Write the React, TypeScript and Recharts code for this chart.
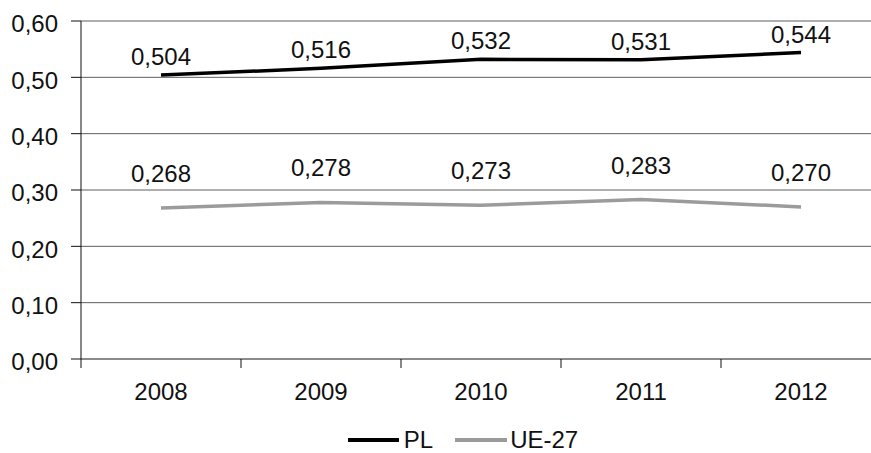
import React from 'react';
import { LineChart, Line, XAxis, YAxis, CartesianGrid, Legend, LabelList } from 'recharts';

const years = ['2008', '2009', '2010', '2011', '2012'];
const plValues = [0.504, 0.516, 0.532, 0.531, 0.544];
const ueValues = [0.268, 0.278, 0.273, 0.283, 0.27];
const yTicks = [0, 0.1, 0.2, 0.3, 0.4, 0.5, 0.6];

const data = years.map((y, i) => ({ year: y, PL: plValues[i], UE: ueValues[i] }));

const FONT = '"Liberation Sans", Arial, Helvetica, sans-serif';
const fmt = (v: number, d: number) => v.toFixed(d).replace('.', ',');

const YTick = (props: any) => {
  const { x, y, payload } = props;
  return (
    <text x={x} y={y + 11.2} textAnchor="end" fontFamily={FONT} fontSize={24} fill="#111">
      {fmt(payload.value, 2)}
    </text>
  );
};

const XTick = (props: any) => {
  const { x, y, payload } = props;
  const half = payload.offset ?? 80;
  return (
    <g>
      <line x1={x - half} x2={x - half} y1={y - 9} y2={y} stroke="#111" strokeWidth={1} />
      <text x={x} y={y + 32} textAnchor="middle" fontFamily={FONT} fontSize={24} fill="#111">
        {payload.value}
      </text>
    </g>
  );
};

const LegendContent = () => (
  <div
    style={{
      display: 'flex',
      justifyContent: 'center',
      alignItems: 'center',
      height: 26,
      fontFamily: FONT,
      fontSize: 24,
      color: '#111',
      lineHeight: '26px',
    }}
  >
    <span style={{ display: 'inline-block', width: 51, height: 4, background: '#000', marginRight: 5 }} />
    <span style={{ marginRight: 22 }}>PL</span>
    <span style={{ display: 'inline-block', width: 52, height: 4, background: '#9b9b9b', marginRight: 3 }} />
    <span>UE-27</span>
  </div>
);

export default function App() {
  return (
    <div style={{ position: 'absolute', left: 0, top: 0, width: 871, height: 453, overflow: 'hidden', background: '#fff' }}>
      <LineChart width={900} height={453} data={data} margin={{ top: 21, right: 19, bottom: 18, left: 0 }}>
        <CartesianGrid vertical={false} stroke="#5e5e5e" strokeWidth={1} />
        <XAxis
          dataKey="year"
          scale="band"
          height={50}
          tickLine={false}
          tickSize={9}
          tickMargin={0}
          axisLine={{ stroke: '#8a8a8a', strokeWidth: 2 }}
          tick={<XTick />}
          interval={0}
        />
        <YAxis
          width={81}
          domain={[0, 0.6]}
          ticks={yTicks}
          tickSize={10}
          tickMargin={13}
          tickLine={{ stroke: '#111' }}
          axisLine={{ stroke: '#111' }}
          tick={<YTick />}
        />
        <Legend
          verticalAlign="bottom"
          content={<LegendContent />}
          wrapperStyle={{ left: 0, width: 926, bottom: 0, height: 26 }}
        />
        <Line
          dataKey="PL"
          stroke="#000"
          strokeWidth={3.5}
          dot={false}
          isAnimationActive={false}
        >
          <LabelList
            dataKey="PL"
            position="top"
            offset={10}
            formatter={(v: any) => fmt(Number(v), 3)}
            style={{ fontFamily: FONT, fontSize: 24, fill: '#111' }}
          />
        </Line>
        <Line
          dataKey="UE"
          stroke="#9b9b9b"
          strokeWidth={3.5}
          dot={false}
          isAnimationActive={false}
        >
          <LabelList
            dataKey="UE"
            position="top"
            offset={26}
            formatter={(v: any) => fmt(Number(v), 3)}
            style={{ fontFamily: FONT, fontSize: 24, fill: '#111' }}
          />
        </Line>
      </LineChart>
    </div>
  );
}
